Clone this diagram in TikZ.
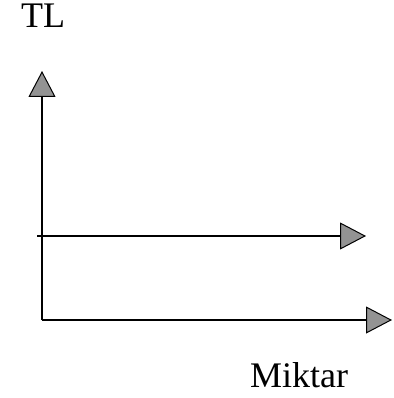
\documentclass[tikz,border=0pt]{standalone}
\usepackage{fontspec}
\setmainfont{Liberation Serif}
\usetikzlibrary{arrows.meta}
\begin{document}
\begin{tikzpicture}[x=1pt,y=-1pt,
  axis/.style={line width=2.2pt,-{Triangle[length=26pt,width=27pt,fill=gray!85,line width=1pt]}},
  lbl/.style={inner sep=0pt,font=\fontsize{36}{43}\selectfont}]
\useasboundingbox (0,0) rectangle (393,398);
\coordinate (O) at (42,320);
\coordinate (top) at (42,71);
\coordinate (right) at (392,320);
\coordinate (ml) at (37,236);
\coordinate (mr) at (366,236);
\draw[axis] (O) -- (top);
\draw[axis] (O) -- (right);
\draw[axis] (ml) -- (mr);
\node[lbl,anchor=base] (tl) at (43,28) {TL};
\node[lbl,anchor=base] (mk) at (299,387) {Miktar};
\end{tikzpicture}
\end{document}
